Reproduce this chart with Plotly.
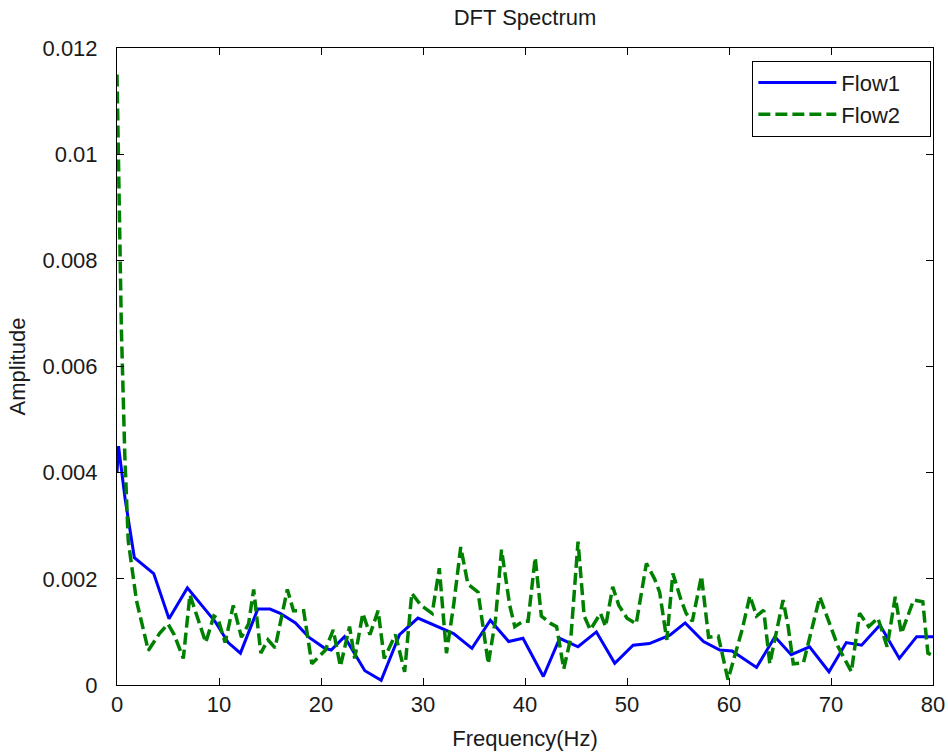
import plotly.graph_objects as go

# Flow1 (blue, solid)
flow1_freq = [0, 0.15, 0.8, 1.7, 3.6, 5.1, 6.9, 8.8, 9.6, 10.9, 12.1, 13.8, 15.0, 16.0, 17.5,
              18.8, 20.3, 21.0, 22.3, 24.3, 25.9, 27.7, 29.5, 33.0, 34.8, 36.6, 38.4, 39.8,
              41.8, 43.4, 45.2, 47.0, 48.8, 50.6, 52.2, 54.2, 55.7, 57.5, 59.1, 60.3, 62.7,
              64.5, 66.1, 67.9, 69.8, 71.5, 73.0, 74.8, 76.7, 78.4, 80.0]
flow1_amp = [0.0040, 0.0045, 0.0035, 0.0024, 0.0021, 0.00125, 0.00183, 0.00140, 0.00120,
             0.00080, 0.00060, 0.00143, 0.00143, 0.00135, 0.00117, 0.00090, 0.00070, 0.00066,
             0.00091, 0.00027, 0.00009, 0.00095, 0.00126, 0.00097, 0.00069, 0.00122, 0.00082,
             0.00088, 0.00016, 0.00088, 0.00072, 0.00100, 0.00041, 0.00075, 0.00078, 0.00094,
             0.00117, 0.00082, 0.00066, 0.00064, 0.00033, 0.00091, 0.00057, 0.00072, 0.00025,
             0.00080, 0.00075, 0.00113, 0.00050, 0.00091, 0.00091]

# Flow2 (green, dashed)
flow2_freq = [0, 0.2, 0.43, 0.77, 1.1, 1.9, 3.07, 4.2, 5.0, 5.6, 6.5, 7.15, 7.8, 8.7, 9.5, 9.9,
              10.6, 11.4, 12.2, 12.9, 13.4, 14.1, 14.8, 15.5, 16.0, 16.7, 17.3, 18.3, 19.1, 20.4,
              21.2, 21.9, 22.8, 23.3, 24.1, 24.8, 25.6, 26.2, 27.3, 28.2, 28.9, 29.8, 30.9, 31.6,
              32.3, 33.0, 33.7, 34.4, 35.4, 36.4, 37.1, 37.7, 38.5, 39.0, 39.8, 40.3, 41.0, 41.6,
              42.5, 43.1, 43.8, 44.5, 45.2, 45.8, 46.4, 47.4, 47.9, 48.6, 49.2, 50.0, 50.9, 51.9,
              52.7, 53.2, 53.9, 54.5, 55.3, 55.8, 56.4, 57.3, 58.0, 58.95, 59.9, 60.75, 61.3,
              62.05, 62.7, 63.4, 64.0, 65.3, 65.8, 66.3, 67.3, 68.9, 69.9, 70.7, 72.0, 72.8, 73.7,
              74.6, 75.5, 76.3, 76.9, 78.1, 79.0, 79.5, 80.0]
flow2_amp = [0.0115, 0.0095, 0.0067, 0.0043, 0.00272, 0.0016, 0.00065, 0.00098, 0.00115, 0.00095,
             0.0005, 0.0017, 0.0013, 0.0008, 0.0013, 0.00125, 0.0008, 0.0015, 0.0009, 0.00115,
             0.0018, 0.0006, 0.00085, 0.0007, 0.00116, 0.0018, 0.0014, 0.0014, 0.0004, 0.00065,
             0.00104, 0.00035, 0.0011, 0.0005, 0.00135, 0.00095, 0.0014, 0.0005, 0.00095, 0.00025,
             0.00173, 0.0015, 0.00135, 0.0022, 0.0006, 0.0015, 0.0026, 0.0019, 0.00175, 0.0004,
             0.00122, 0.00255, 0.0015, 0.0011, 0.0012, 0.0012, 0.0024, 0.0013, 0.00116, 0.0011,
             0.0003, 0.0009, 0.0027, 0.0013, 0.00104, 0.00135, 0.0011, 0.00185, 0.0015, 0.00126,
             0.00115, 0.00229, 0.0020, 0.00175, 0.00085, 0.0021, 0.0016, 0.00135, 0.0012, 0.00205,
             0.0009, 0.00092, 0.0001, 0.0007, 0.00105, 0.00168, 0.0013, 0.00141, 0.0004, 0.0016,
             0.0011, 0.0004, 0.00042, 0.00166, 0.00116, 0.00072, 0.00025, 0.00135, 0.0011,
             0.00126, 0.00072, 0.00166, 0.00097, 0.0016, 0.00157, 0.0006, 0.00055]

series_names = ["Flow1", "Flow2"]
x_ticks = [0, 10, 20, 30, 40, 50, 60, 70, 80]
y_ticks = [0, 0.002, 0.004, 0.006, 0.008, 0.010, 0.012]
y_tick_labels = ["0", "0.002", "0.004", "0.006", "0.008", "0.01", "0.012"]

font_family = "Liberation Sans, Arial, sans-serif"
txt = "#1a1a1a"
fs = 22
pad = "\u00a0" * 4  # right padding inside legend box

fig = go.Figure()
fig.add_trace(go.Scatter(x=flow1_freq, y=flow1_amp, mode="lines", name=series_names[0] + pad,
                         line=dict(color="#0000FF", width=3)))
fig.add_trace(go.Scatter(x=flow2_freq, y=flow2_amp, mode="lines", name=series_names[1] + pad,
                         line=dict(color="#008000", width=3.5, dash="12px,5px")))

axis_common = dict(showline=True, linecolor="black", linewidth=1, mirror="ticks",
                   ticks="inside", ticklen=7, tickcolor="black", showgrid=False,
                   zeroline=False, automargin=False, tickfont=dict(size=fs, color=txt))

fig.update_layout(
    width=948, height=754,
    margin=dict(l=117, r=15, t=48, b=69, autoexpand=False),
    paper_bgcolor="white", plot_bgcolor="white",
    font=dict(family=font_family, size=fs, color=txt),
    title=dict(text="DFT Spectrum", x=0.5, xref="paper", xanchor="center",
               y=1 - 17 / 754, yanchor="middle", font=dict(size=fs, color=txt)),
    xaxis=dict(range=[0, 80], tickvals=x_ticks, ticklabelstandoff=0,
               title=dict(text="Frequency(Hz)", standoff=14, font=dict(size=fs, color=txt)),
               **axis_common),
    yaxis=dict(range=[0, 0.012], tickvals=y_ticks, ticktext=y_tick_labels,
               ticklabelstandoff=14,
               title=dict(text="Amplitude", standoff=10, font=dict(size=fs, color=txt)),
               **axis_common),
    legend=dict(x=0.998, y=0.98, xanchor="right", yanchor="top",
                bordercolor="black", borderwidth=1, bgcolor="white",
                font=dict(size=fs, color=txt), itemwidth=78,
                tracegroupgap=0),
    showlegend=True,
)

fig.write_html("out.html")
